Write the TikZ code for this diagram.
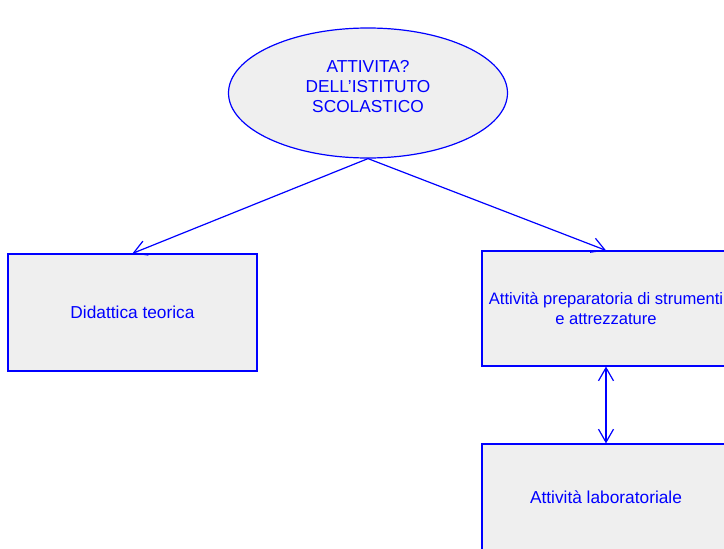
\documentclass[tikz,border=0pt]{standalone}
\usepackage{fontspec}
\setmainfont{Liberation Sans}
\usepackage{xcolor}
\usetikzlibrary{shapes.geometric,arrows.meta}
\definecolor{boxfill}{RGB}{239,239,239}
\tikzset{
  attivita/.style={draw=blue,fill=boxfill,line width=1.2pt,text=blue,font=\fontsize{17.3}{20}\selectfont,align=center,inner sep=0pt},
  rettangolo/.style={attivita,rectangle,minimum width=248pt,minimum height=116pt},
  freccia/.style={draw=blue,line width=1.2pt,-{Straight Barb[length=13pt,width=15pt]}}
}

\begin{document}
\begin{tikzpicture}[x=1pt,y=-1pt]
\path[use as bounding box,clip] (0,0) rectangle (724,549);

%root
\node [attivita,ellipse,minimum width=279pt,minimum height=130pt,text depth=14pt] (istituto) at (368,93) {ATTIVITA?\\DELL'ISTITUTO\\SCOLASTICO};

%left
\node [rettangolo,minimum width=249pt,minimum height=117pt] (teorica) at (132.5,312.5) {Didattica teorica};

%right
\node [rettangolo,minimum height=115pt,font=\fontsize{16.6}{20}\selectfont] (preparatoria) at (606,308.5) {Attivit\`a preparatoria di strumenti\\e attrezzature};
\node [rettangolo,minimum height=106pt] (laboratorio) at (606,497) {Attivit\`a laboratoriale};

%edges
\draw [freccia] (istituto.south) -- (teorica.north);
\draw [freccia] (istituto.south) -- (preparatoria.north);
\draw [freccia,{Straight Barb[length=13pt,width=15pt]}-{Straight Barb[length=13pt,width=15pt]}] (preparatoria.south) -- (laboratorio.north);
\end{tikzpicture}
\end{document}
